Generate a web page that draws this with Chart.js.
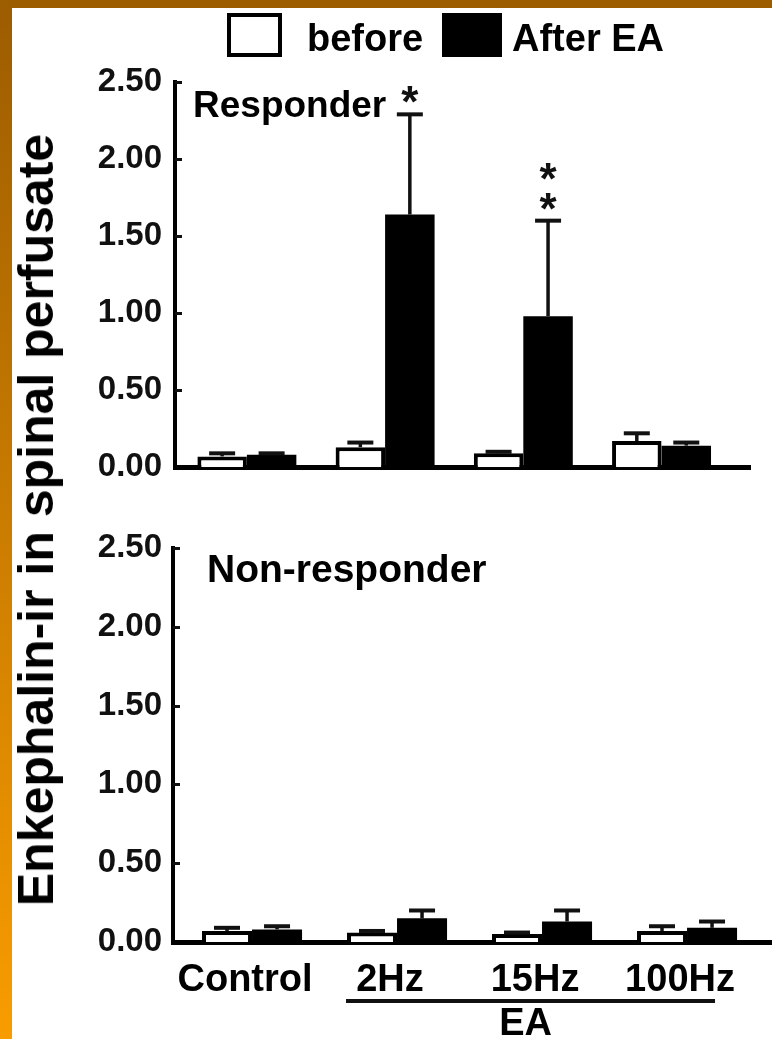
<!DOCTYPE html>
<html>
<head>
<meta charset="utf-8">
<script src="https://cdn.jsdelivr.net/npm/chart.js@4.4.0/dist/chart.umd.min.js"></script>
<style>
html,body{margin:0;padding:0;background:#fff;}
body{width:772px;height:1039px;position:relative;overflow:hidden;font-family:"Liberation Sans",Arial,sans-serif;font-weight:bold;color:#000;}
#frameTop{position:absolute;left:0;top:0;width:772px;height:8px;background:#9c5c00;z-index:5;}
#frameLeft{position:absolute;left:0;top:0;width:12px;height:1039px;background:linear-gradient(#9c5c00,#f89c00);z-index:5;}
#topWrap{position:absolute;left:0;top:0;width:772px;height:500px;}
#botWrap{position:absolute;left:0;top:500px;width:772px;height:539px;}
.lgBox{position:absolute;top:13px;height:44px;box-sizing:border-box;}
.lgText{position:absolute;top:19px;font-size:38px;line-height:38px;white-space:nowrap;}
#ytitle{position:absolute;left:36px;top:520px;transform:translate(-50%,-50%) rotate(-90deg);white-space:nowrap;font-size:50px;line-height:50px;z-index:4;}
</style>
</head>
<body>
<div id="frameTop"></div>
<div id="frameLeft"></div>
<div id="topWrap"><canvas id="cTop"></canvas></div>
<div id="botWrap"><canvas id="cBot"></canvas></div>
<div class="lgBox" id="lg0" style="left:227px;width:55px;border:4px solid #000;background:#fff;"></div>
<div class="lgText" id="lt0" style="left:307px;"></div>
<div class="lgBox" id="lg1" style="left:442px;width:60px;background:#000;"></div>
<div class="lgText" id="lt1" style="left:512px;"></div>
<div id="ytitle"></div>
<script>
// ---- data ----
const categories = ['Control', '2Hz', '15Hz', '100Hz'];
const responderBefore    = [0.07, 0.13, 0.09, 0.17];
const responderBeforeErr = [0.02, 0.03, 0.01, 0.05];
const responderAfter     = [0.08, 1.64, 0.98, 0.14];
const responderAfterErr  = [0.01, 0.65, 0.62, 0.02];
const responderStars     = [0, 1, 2, 0];
const nonBefore    = [0.07, 0.06, 0.05, 0.07];
const nonBeforeErr = [0.02, 0.01, 0.01, 0.03];
const nonAfter     = [0.08, 0.15, 0.13, 0.09];
const nonAfterErr  = [0.02, 0.05, 0.07, 0.04];
const yTicks = [0, 0.5, 1.0, 1.5, 2.0, 2.5];
const legendLabels = ['before', 'After EA'];
const panelTitles = ['Responder', 'Non-responder'];
const yTitle = 'Enkephalin-ir in spinal perfusate';
const groupLabel = 'EA';

document.getElementById('lt0').textContent = legendLabels[0];
document.getElementById('lt1').textContent = legendLabels[1];
document.getElementById('ytitle').textContent = yTitle;

const FONT = "'Liberation Sans', Arial, sans-serif";
Chart.defaults.font.family = FONT;
Chart.defaults.color = '#000';
Chart.defaults.animation = false;

const toPts = arr => arr.map((v, i) => ({x: i, y: v}));

const errPlugin = {
  id: 'errBars',
  afterDatasetsDraw(chart, args, opts) {
    const ctx = chart.ctx, ys = chart.scales.y;
    chart.data.datasets.forEach((ds, di) => {
      const meta = chart.getDatasetMeta(di);
      meta.data.forEach((el, i) => {
        const v = ds.data[i].y, e = ds.errors[i];
        const yt = ys.getPixelForValue(v + e);
        ctx.save();
        ctx.strokeStyle = '#111';
        ctx.lineCap = 'butt';
        ctx.lineWidth = 3.5;
        ctx.beginPath(); ctx.moveTo(el.x, el.y); ctx.lineTo(el.x, yt); ctx.stroke();
        ctx.lineWidth = 4;
        ctx.beginPath(); ctx.moveTo(el.x - 13, yt); ctx.lineTo(el.x + 13, yt); ctx.stroke();
        const n = (ds.stars || [])[i] || 0;
        ctx.fillStyle = '#111';
        ctx.font = 'bold 44px ' + FONT;
        ctx.textAlign = 'center';
        ctx.textBaseline = 'alphabetic';
        for (let k = 0; k < n; k++) {
          const cy = yt - 22 - 30 * k;
          ctx.fillText('*', el.x, cy + 0.57 * 44);
        }
        ctx.restore();
      });
    });
  }
};

const decoPlugin = {
  id: 'deco',
  afterDraw(chart, args, opts) {
    const ctx = chart.ctx, ca = chart.chartArea, ys = chart.scales.y, xs = chart.scales.x;
    ctx.save();
    ctx.strokeStyle = '#111';
    ctx.lineWidth = 3;
    yTicks.forEach(v => {
      if (v === 0) return;
      const y = Math.round(ys.getPixelForValue(v)) + 0.5;
      ctx.beginPath(); ctx.moveTo(ca.left, y); ctx.lineTo(ca.left + 7, y); ctx.stroke();
    });
    ctx.fillStyle = '#000';
    ctx.font = 'bold ' + opts.titleSize + 'px ' + FONT;
    ctx.textAlign = 'left';
    ctx.textBaseline = 'alphabetic';
    ctx.fillText(opts.title, ca.left + opts.dx, ca.top + opts.dy);
    if (opts.group) {
      const x1 = xs.getPixelForValue(1) - 51, x2 = xs.getPixelForValue(3) + 28;
      ctx.fillStyle = '#111';
      ctx.fillRect(x1, opts.lineY, x2 - x1, 4);
      ctx.fillStyle = '#000';
      ctx.font = 'bold 38px ' + FONT;
      ctx.textAlign = 'center';
      ctx.fillText(opts.group, (x1 + x2) / 2 - 5, opts.lineY + 36);
    }
    ctx.restore();
  }
};

function makeChart(id, before, beforeErr, after, afterErr, stars, cfg) {
  return new Chart(document.getElementById(id), {
    type: 'bar',
    data: {
      datasets: [
        {label: legendLabels[0], data: toPts(before), errors: beforeErr,
         backgroundColor: '#fff', borderColor: '#000', borderWidth: 4,
         categoryPercentage: cfg.catPct, barPercentage: 1.0},
        {label: legendLabels[1], data: toPts(after), errors: afterErr, stars: stars,
         backgroundColor: '#000', borderColor: '#000', borderWidth: 0,
         categoryPercentage: cfg.catPct, barPercentage: 1.0}
      ]
    },
    options: {
      responsive: true,
      maintainAspectRatio: false,
      devicePixelRatio: 1,
      layout: {padding: cfg.padding},
      plugins: {
        legend: {display: false},
        tooltip: {enabled: false},
        deco: {title: cfg.title, titleSize: cfg.titleSize, dx: cfg.titleDx, dy: cfg.titleDy, group: cfg.group, lineY: cfg.lineY}
      },
      scales: {
        x: {
          type: 'linear',
          offset: false,
          min: cfg.xMin, max: cfg.xMax,
          grid: {display: false, drawTicks: false, offset: false},
          border: {display: true, color: '#000', width: 5},
          ticks: {
            display: cfg.showX, stepSize: 1, includeBounds: false,
            autoSkip: false, maxRotation: 0, minRotation: 0,
            padding: 16, labelOffset: -7,
            font: {size: 38, weight: 'bold'}, color: '#000',
            callback: v => (Number.isInteger(v) && categories[v] !== undefined) ? categories[v] : ''
          },
          afterFit: s => { s.height = cfg.xHeight; }
        },
        y: {
          min: 0, max: 2.5,
          grid: {display: false, drawTicks: false},
          border: {display: true, color: '#000', width: 4},
          ticks: {
            padding: cfg.yPad, font: {size: 33, weight: 'bold'}, color: '#111',
            callback: v => Number(v).toFixed(2)
          },
          afterBuildTicks: s => { s.ticks = yTicks.map(v => ({value: v})); },
          afterFit: s => { s.width = cfg.yWidth; }
        }
      }
    },
    plugins: [errPlugin, decoPlugin]
  });
}

makeChart('cTop', responderBefore, responderBeforeErr, responderAfter, responderAfterErr, responderStars, {
  catPct: 0.716, padding: {top: 82, left: 0, right: 22, bottom: 18},
  xMin: -0.52, xMax: 3.64, showX: false, xHeight: 0, yWidth: 175, yPad: 13,
  title: panelTitles[0], titleSize: 37, titleDx: 18, titleDy: 35, group: null, lineY: 0
});
makeChart('cBot', nonBefore, nonBeforeErr, nonAfter, nonAfterErr, [0, 0, 0, 0], {
  catPct: 0.69, padding: {top: 48, left: 0, right: 0, bottom: 0},
  xMin: -0.545, xMax: 3.586, showX: true, xHeight: 97, yWidth: 173, yPad: 11,
  title: panelTitles[1], titleSize: 39, titleDx: 34, titleDy: 34, group: groupLabel, lineY: 499
});
</script>
</body>
</html>
